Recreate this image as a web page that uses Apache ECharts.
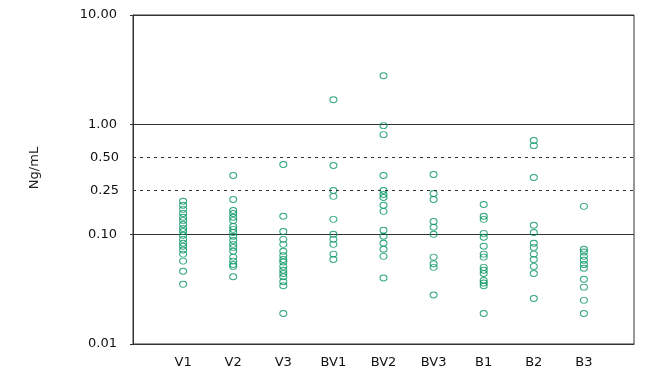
<!DOCTYPE html>
<html>
<head>
<meta charset="utf-8">
<script src="https://cdn.jsdelivr.net/npm/echarts@6/dist/echarts.min.js"></script>
<style>
	html, body { margin: 0; padding: 0; background: #fff; }
	#chart { width: 666px; height: 378px; }
</style>
</head>
<body>
<div id="chart"></div>
<script>
	// 分组
	var categories = ['V1', 'V2', 'V3', 'BV1', 'BV2', 'BV3', 'B1', 'B2', 'B3'];

	// 各组浓度 (Ng/mL)
	var v1 = [0.2, 0.184, 0.169, 0.155, 0.143, 0.134, 0.123, 0.113, 0.106, 0.098, 0.09, 0.083, 0.078, 0.072, 0.066, 0.057, 0.046, 0.035];
	var v2 = [0.344, 0.208, 0.165, 0.155, 0.143, 0.134, 0.118, 0.111, 0.104, 0.096, 0.088, 0.081, 0.076, 0.07, 0.062, 0.057, 0.053, 0.051, 0.041];
	var v3 = [0.433, 0.146, 0.106, 0.09, 0.081, 0.07, 0.064, 0.059, 0.056, 0.051, 0.047, 0.044, 0.041, 0.037, 0.034, 0.019];
	var bv1 = [1.69, 0.424, 0.251, 0.222, 0.137, 0.1, 0.09, 0.081, 0.066, 0.059];
	var bv2 = [2.79, 0.98, 0.811, 0.344, 0.251, 0.231, 0.217, 0.184, 0.162, 0.109, 0.096, 0.083, 0.073, 0.063, 0.04];
	var bv3 = [0.351, 0.236, 0.208, 0.131, 0.116, 0.1, 0.062, 0.054, 0.05, 0.028];
	var b1 = [0.187, 0.146, 0.137, 0.102, 0.094, 0.078, 0.066, 0.062, 0.05, 0.047, 0.044, 0.038, 0.036, 0.034, 0.019];
	var b2 = [0.716, 0.644, 0.33, 0.121, 0.104, 0.083, 0.076, 0.066, 0.059, 0.051, 0.044, 0.026];
	var b3 = [0.18, 0.073, 0.069, 0.063, 0.058, 0.053, 0.049, 0.039, 0.033, 0.025, 0.019];
	var groups = [v1, v2, v3, bv1, bv2, bv3, b1, b2, b3];

	// 参考线
	var refLines = [0.5, 0.25];

	var points = [];
	for (var i = 0; i < groups.length; i++) {
		for (var j = 0; j < groups[i].length; j++) {
			points.push([i + 1, groups[i][j]]);
		}
	}

	var font = 'DejaVu Sans';
	var myChart = echarts.init(document.getElementById('chart'));
	var option = {
		animation: false,
		textStyle: { fontFamily: font },
		grid: {
			left: 133,
			right: 32,
			top: 15,
			bottom: 34,
			show: true,
			borderColor: '#333',
			borderWidth: 1,
			backgroundColor: 'transparent'
		},
		graphic: [{
			type: 'text',
			x: 35,
			y: 168,
			rotation: Math.PI / 2,
			style: {
				text: 'Ng/mL',
				fill: '#222',
				font: '13px "DejaVu Sans"',
				textAlign: 'center',
				textVerticalAlign: 'middle'
			}
		}],
		xAxis: {
			type: 'value',
			min: 0,
			max: 10,
			interval: 1,
			splitLine: { show: false },
			axisTick: { show: false },
			axisLine: { lineStyle: { color: '#333' } },
			axisLabel: {
				margin: 12,
				color: '#111',
				fontSize: 13,
				fontFamily: font,
				showMinLabel: false,
				showMaxLabel: false,
				formatter: function(v) {
					return categories[v - 1] || '';
				}
			}
		},
		yAxis: {
			type: 'log',
			logBase: 10,
			min: 0.01,
			max: 10,
			axisLine: { show: true, lineStyle: { color: '#333' } },
			axisTick: { show: true, length: 3, lineStyle: { color: '#333' } },
			splitLine: { show: true, lineStyle: { color: '#333', width: 1 } },
			axisLabel: {
				margin: 16,
				color: '#111',
				fontSize: 13,
				fontFamily: font,
				formatter: function(v) {
					return Number(v).toFixed(2);
				}
			}
		},
		series: [{
			type: 'scatter',
			data: points,
			symbol: 'circle',
			symbolSize: [7, 6],
			itemStyle: {
				color: 'transparent',
				borderColor: '#00945E',
				borderWidth: 1
			},
			markLine: {
				silent: true,
				symbol: 'none',
				lineStyle: { color: '#333', type: [3, 4], width: 1 },
				label: {
					position: 'start',
					distance: 14,
					color: '#111',
					fontSize: 13,
					fontFamily: font,
					formatter: function(p) {
						return Number(p.value).toFixed(2);
					}
				},
				data: refLines.map(function(v) {
					return { yAxis: v };
				})
			}
		}]
	};
	myChart.setOption(option);
</script>
</body>
</html>
